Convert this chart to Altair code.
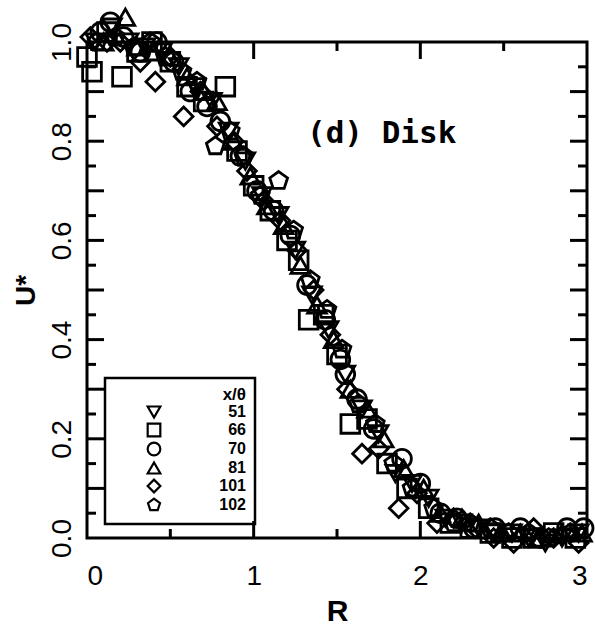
import altair as alt
import pandas as pd

# ---------------- data ----------------
series_names = ["51", "66", "70", "81", "101", "102"]

R_51 = [0.05, 0.15, 0.25, 0.35, 0.45, 0.55, 0.65, 0.75, 0.85, 0.95, 1.05, 1.15, 1.25, 1.35, 1.45,
        1.55, 1.65, 1.75, 1.85, 1.95, 2.05, 2.15, 2.25, 2.35, 2.45, 2.55, 2.65, 2.75, 2.85, 2.95]
U_51 = [1.00, 1.03, 1.00, 0.99, 0.98, 0.95, 0.91, 0.88, 0.82, 0.76, 0.69, 0.65, 0.58, 0.49, 0.42,
        0.33, 0.26, 0.21, 0.13, 0.11, 0.08, 0.04, 0.03, 0.02, 0.01, 0.01, 0.00, -0.01, 0.00, 0.01]

R_66 = [0.00, 0.03, 0.12, 0.21, 0.30, 0.39, 0.50, 0.60, 0.70, 0.83, 0.90, 1.00, 1.10, 1.20, 1.27,
        1.33, 1.42, 1.50, 1.58, 1.68, 1.80, 1.92, 2.05, 2.18, 2.30, 2.42, 2.55, 2.68, 2.80, 2.93]
U_66 = [0.97, 0.94, 1.02, 0.93, 0.98, 1.00, 0.96, 0.91, 0.88, 0.91, 0.78, 0.71, 0.66, 0.60, 0.56,
        0.44, 0.45, 0.37, 0.23, 0.24, 0.15, 0.10, 0.06, 0.03, 0.02, 0.01, 0.00, 0.00, 0.01, 0.00]

R_70 = [0.08, 0.14, 0.22, 0.32, 0.42, 0.52, 0.62, 0.72, 0.80, 0.92, 1.02, 1.12, 1.22, 1.32, 1.43,
        1.52, 1.55, 1.62, 1.72, 1.89, 2.00, 2.12, 2.22, 2.32, 2.45, 2.60, 2.72, 2.88, 2.98]
U_70 = [1.02, 1.04, 1.01, 0.98, 1.00, 0.96, 0.90, 0.87, 0.84, 0.77, 0.70, 0.66, 0.61, 0.51, 0.44,
        0.36, 0.33, 0.28, 0.22, 0.16, 0.11, 0.05, 0.04, 0.02, 0.02, 0.02, 0.00, 0.02, 0.02]

R_81 = [0.10, 0.23, 0.30, 0.40, 0.50, 0.60, 0.70, 0.78, 0.88, 0.98, 1.08, 1.18, 1.28, 1.38, 1.48,
        1.58, 1.68, 1.78, 1.90, 2.02, 2.12, 2.25, 2.35, 2.48, 2.60, 2.72, 2.85, 2.97]
U_81 = [1.00, 1.05, 0.99, 0.98, 0.97, 0.93, 0.90, 0.88, 0.80, 0.73, 0.67, 0.63, 0.55, 0.47, 0.40,
        0.30, 0.26, 0.20, 0.14, 0.10, 0.05, 0.04, 0.03, 0.01, 0.01, 0.00, 0.01, 0.01]

R_101 = [0.02, 0.12, 0.20, 0.32, 0.41, 0.50, 0.58, 0.68, 0.78, 0.88, 0.96, 1.06, 1.16, 1.26, 1.36,
         1.46, 1.56, 1.65, 1.75, 1.87, 1.98, 2.10, 2.20, 2.33, 2.44, 2.56, 2.68, 2.80, 2.95]
U_101 = [1.01, 1.00, 1.00, 0.96, 0.92, 0.97, 0.85, 0.90, 0.83, 0.80, 0.74, 0.68, 0.64, 0.58, 0.50,
         0.41, 0.30, 0.17, 0.18, 0.06, 0.09, 0.03, 0.04, 0.02, 0.00, -0.01, 0.02, 0.00, -0.01]

R_102 = [0.06, 0.17, 0.28, 0.38, 0.47, 0.57, 0.66, 0.77, 0.86, 0.94, 1.04, 1.15, 1.24, 1.34, 1.44,
         1.53, 1.63, 1.73, 1.84, 1.95, 2.08, 2.20, 2.30, 2.42, 2.53, 2.65, 2.77, 2.90]
U_102 = [1.00, 1.01, 0.99, 1.00, 0.97, 0.94, 0.92, 0.79, 0.82, 0.77, 0.69, 0.72, 0.62, 0.52, 0.46,
         0.38, 0.27, 0.23, 0.15, 0.10, 0.06, 0.03, 0.03, 0.02, 0.01, 0.01, 0.00, 0.01]

x_labels = [0, 1, 2, 3]
x_major = [1, 2]
x_minor = [0.5, 1.5, 2.5]
y_labels = [0.0, 0.2, 0.4, 0.6, 0.8, 1.0]
y_major = [0.1, 0.2, 0.3, 0.4, 0.5, 0.6, 0.7, 0.8, 0.9]
y_minor = [0.05, 0.15, 0.25, 0.35, 0.45, 0.55, 0.65, 0.75, 0.85, 0.95]

ann_R = [1.32]
ann_U = [0.815]
ann_text = ["(d) Disk"]

# ---------------- build table ----------------
PENTAGON = "M0,-1L0.951,-0.309L0.588,0.809L-0.588,0.809L-0.951,-0.309Z"
shapes = ["triangle-down", "square", "circle", "triangle-up", "diamond", PENTAGON]

all_R = [R_51, R_66, R_70, R_81, R_101, R_102]
all_U = [U_51, U_66, U_70, U_81, U_101, U_102]
rows = []
for name, rs, us in zip(series_names, all_R, all_U):
    for r, u in zip(rs, us):
        rows.append({"R": r, "U": u, "s": name})
df = pd.DataFrame(rows)

W, H = 500, 496
LONG = 17
SHORT = 9
FONT = "Liberation Sans"

xscale = alt.Scale(domain=[0, 3], nice=False, zero=False)
yscale = alt.Scale(domain=[0, 1], nice=False, zero=False)

points = alt.Chart(df).mark_point(
    filled=False, size=350, strokeWidth=2.8, color="black", opacity=1, clip=False
).encode(
    x=alt.X("R:Q", scale=xscale, title="R",
            axis=alt.Axis(values=x_labels, format="d", domain=False, grid=False,
                          ticks=False, tickSize=0, labelPadding=24, labelFont=FONT,
                          labelFontSize=28, labelColor="black", titleFont=FONT,
                          titleFontSize=30, titleFontWeight="bold", titleColor="black",
                          titlePadding=6)),
    y=alt.Y("U:Q", scale=yscale, title="U*",
            axis=alt.Axis(values=y_labels, format=".1f", domain=False, grid=False,
                          ticks=False, tickSize=0, labelAngle=270, labelAlign="center",
                          labelBaseline="alphabetic", labelPadding=17, labelFont=FONT,
                          labelFontSize=28, labelColor="black", titleFont=FONT,
                          titleFontSize=28, titleFontWeight="bold", titleColor="black",
                          titlePadding=8)),
    shape=alt.Shape("s:N", sort=series_names,
                    scale=alt.Scale(domain=series_names, range=shapes),
                    legend=alt.Legend(
                        title="x/θ", orient="none", legendX=18, legendY=336,
                        direction="vertical", padding=9, strokeColor="black",
                        titleAnchor="end", titleFont=FONT, titleFontSize=17,
                        titleFontWeight="bold", titleColor="black", titlePadding=0,
                        labelFont=FONT, labelFontSize=16, labelFontWeight="bold",
                        labelColor="black", labelAlign="right", labelOffset=84,
                        symbolSize=160, symbolStrokeWidth=2.2, symbolStrokeColor="black",
                        symbolOffset=32, rowPadding=-8)),
)


def yticks(values, side, length):
    x0, x1 = (0, length) if side == "left" else (W - length, W)
    return alt.Chart(pd.DataFrame({"v": values})).mark_rule(
        color="black", strokeWidth=3
    ).encode(
        y=alt.Y("v:Q", scale=yscale, axis=None),
        x=alt.value(x0), x2=alt.value(x1),
    )


def xticks(values, side, length):
    y0, y1 = (H - length, H) if side == "bottom" else (0, length)
    return alt.Chart(pd.DataFrame({"v": values})).mark_rule(
        color="black", strokeWidth=3
    ).encode(
        x=alt.X("v:Q", scale=xscale, axis=None),
        y=alt.value(y0), y2=alt.value(y1),
    )


tick_layers = [
    yticks(y_major, "left", LONG), yticks(y_minor, "left", SHORT),
    yticks(y_major, "right", LONG), yticks(y_minor, "right", SHORT),
    xticks(x_major, "bottom", LONG), xticks(x_minor, "bottom", SHORT),
    xticks(x_major, "top", LONG), xticks(x_minor, "top", SHORT),
]

ann = alt.Chart(pd.DataFrame({"R": ann_R, "U": ann_U, "t": ann_text})).mark_text(
    align="left", baseline="middle", font="DejaVu Sans Mono", fontSize=31,
    fontWeight="bold", color="black"
).encode(
    x=alt.X("R:Q", scale=xscale, axis=None),
    y=alt.Y("U:Q", scale=yscale, axis=None),
    text="t:N",
)

chart = alt.layer(points, *tick_layers, ann).resolve_axis(
    x="independent", y="independent"
).properties(
    width=W, height=H,
    padding={"left": 87, "top": 42, "right": 8, "bottom": 91},
    autosize=alt.AutoSizeParams(type="none"),
).configure_view(
    stroke="black", strokeWidth=3
).configure_legend(
    strokeWidth=2.5
)

chart.save("out.html", embed_options={"renderer": "svg", "actions": False})
